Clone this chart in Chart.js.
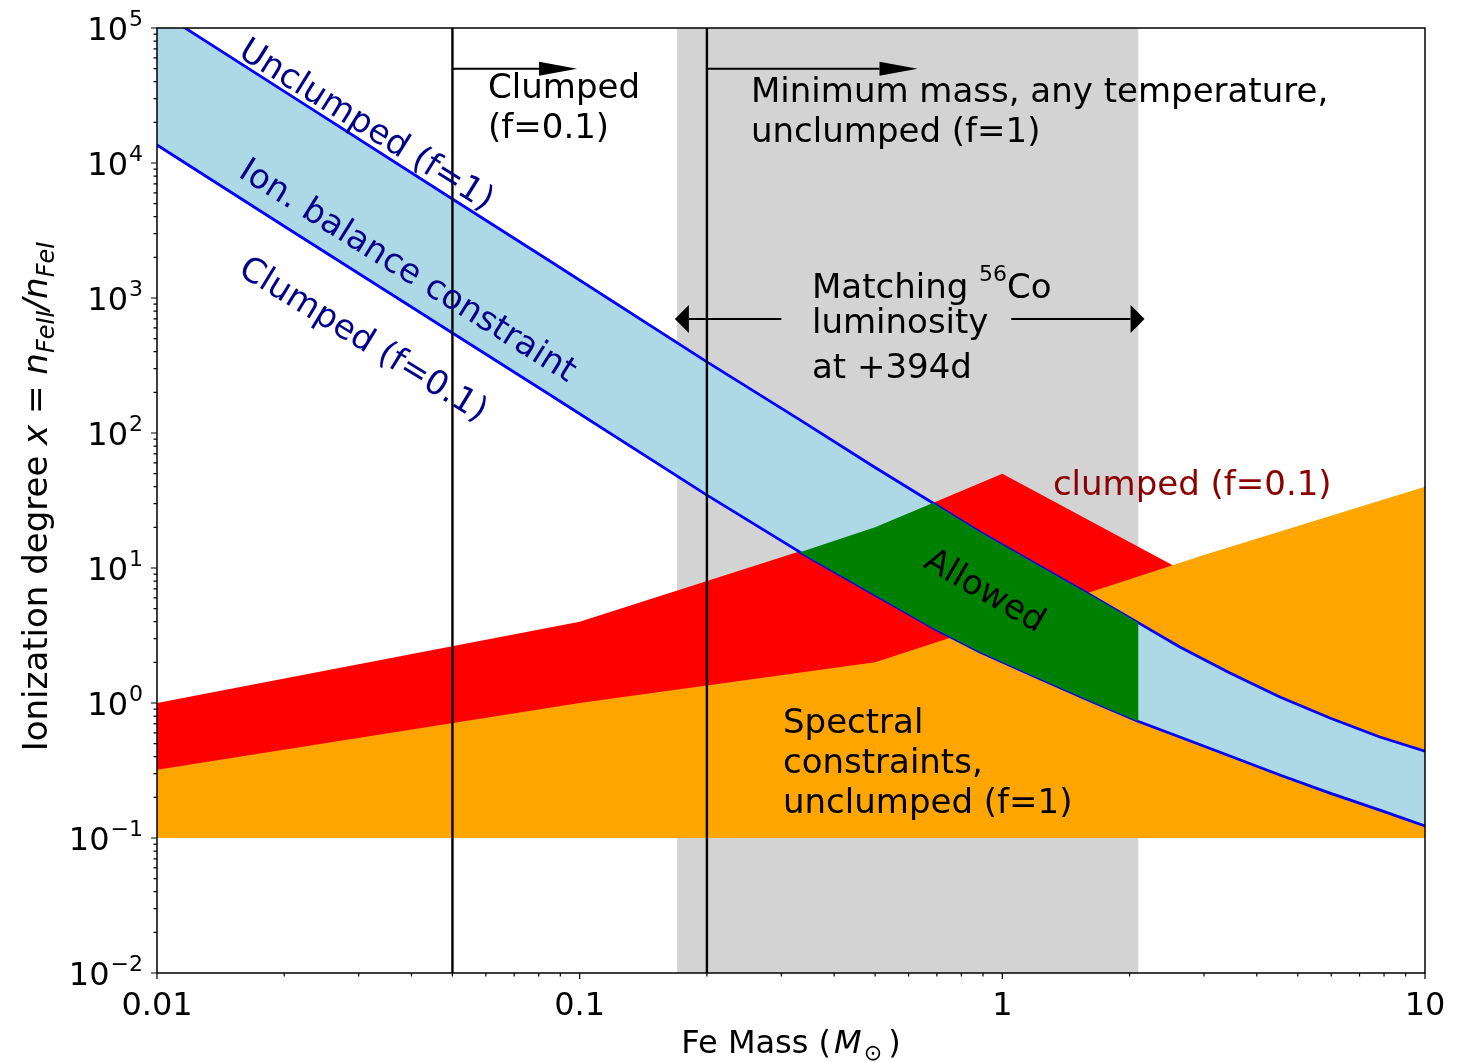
<!DOCTYPE html>
<html lang="en">
<head>
<meta charset="UTF-8">
<title>Ionization degree vs Fe mass</title>
<style>
  body { margin: 0; background: #fff; }
  #wrap { width: 1471px; height: 1062px; }
</style>
<script src="https://cdn.jsdelivr.net/npm/chart.js"></script>
</head>
<body>
<div id="wrap"><canvas id="ionChart" width="1471" height="1062"></canvas></div>
<script>
// ion balance curves (Fe mass in Msun)
const massGrid     = [0.01, 0.02, 0.05, 0.085, 0.2, 0.332, 0.5, 0.685, 0.885, 1.2, 1.585, 2.1, 2.63, 3.455, 4.536, 5.957, 7.82, 10];
const unclumpedIon = [136000, 33900, 5410, 1880, 336, 125, 55.5, 30.3, 18.5, 10.7, 6.53, 3.92, 2.60, 1.667, 1.107, 0.774, 0.56, 0.44];
const clumpedIon   = [13600, 3400, 550, 192, 34.7, 13.1, 6.3, 3.6, 2.39, 1.56, 1.06, 0.73, 0.56, 0.405, 0.293, 0.215, 0.161, 0.123];

// spectral constraints (upper edges, both go down to the floor)
const specClumpedMass   = [0.01, 0.1, 0.5, 1, 2.53];
const specClumpedTop    = [1.0, 4.0, 20, 50, 10.5];
const specUnclumpedMass = [0.01, 0.1, 0.5, 3, 10];
const specUnclumpedTop  = [0.32, 1.0, 2.0, 12.5, 40];
const specFloor = 0.1;

// allowed region
const allowedMass   = [0.332, 0.5, 0.685, 0.885, 1.2, 1.585, 2.1];
const allowedTop    = [13.1, 20, 30.3, 18.5, 10.7, 6.53, 3.92];
const allowedBottom = [13.1, 6.3, 3.6, 2.39, 1.56, 1.06, 0.73];

// 56Co luminosity band and minimum mass lines
const coBandMass = [0.17, 2.1];
const minMassLines = [0.05, 0.2];

// arrows
const arrowFrom = [0.05, 0.2, 0.30, 1.05];
const arrowTo   = [0.0986, 0.63, 0.168, 2.17];
const arrowY    = [50000, 50000, 700, 700];

// ticks
const xMajorTicks = [0.01, 0.1, 1, 10];
const xTickLabels = ['0.01', '0.1', '1', '10'];
const yMajorTicks = [1e-2, 1e-1, 1, 10, 100, 1e3, 1e4, 1e5];
const yTickExponents = ['\u22122', '\u22121', '0', '1', '2', '3', '4', '5'];
const minorSubs = [2, 3, 4, 5, 6, 7, 8, 9];

const FONT = "'DejaVu Sans', 'Liberation Sans', sans-serif";
const TXT = 34;
const TICK_TXT = 32;
const TITLE_TXT = 34;

function pts(xs, ys) {
    return xs.map((x, i) => ({x: x, y: ys[i]}));
}

function minorsOf(majors) {
    const out = [];
    majors.slice(0, -1).forEach(m => minorSubs.forEach(s => out.push(m * s)));
    return out;
}

function setFont(ctx, size, italic) {
    ctx.font = (italic ? 'italic ' : '') + size + 'px ' + FONT;
}

function segWidth(ctx, segs) {
    let w = 0;
    segs.forEach(s => {
        setFont(ctx, s.size || TXT, s.italic);
        w += ctx.measureText(s.t).width + (s.gap || 0);
    });
    return w;
}

function drawSegs(ctx, segs, x, y) {
    let cx = x;
    segs.forEach(s => {
        setFont(ctx, s.size || TXT, s.italic);
        ctx.fillText(s.t, cx, y + (s.dy || 0));
        cx += ctx.measureText(s.t).width + (s.gap || 0);
    });
}

// text placed in data coordinates
const textNotes = [
    {x: 0.0607, y: 30300, color: '#000', step: [0, 40],
     lines: [[{t: 'Clumped'}], [{t: '(f=0.1)'}]]},
    {x: 0.2543, y: 28300, color: '#000', step: [0, 40],
     lines: [[{t: 'Minimum mass, any temperature,'}], [{t: 'unclumped (f=1)'}]]},
    {x: 0.3545, y: 1000, color: '#000', step: [0, 35, 80],
     lines: [[{t: 'Matching '}, {t: '56', size: 22, dy: -17}, {t: 'Co'}], [{t: 'luminosity'}], [{t: 'at +394d'}]]},
    {x: 1.317, y: 34.7, color: '#8b0000', step: [0],
     lines: [[{t: 'clumped (f=0.1)'}]]},
    {x: 0.3027, y: 0.6, color: '#000', step: [0, 40, 80],
     lines: [[{t: 'Spectral'}], [{t: 'constraints,'}], [{t: 'unclumped (f=1)'}]]}
];

const slantNotes = [
    {x: 0.01546, y: 62000, text: 'Unclumped (f=1)', color: '#00008b', angle: 32, align: 'left'},
    {x: 0.01546, y: 8010, text: 'Ion. balance constraint', color: '#00008b', angle: 32, align: 'left'},
    {x: 0.01546, y: 1507, text: 'Clumped (f=0.1)', color: '#00008b', angle: 31.5, align: 'left'},
    {x: 0.905, y: 6.64, text: 'Allowed', color: '#000', angle: 30, align: 'center'}
];

// head length / half width in px
const arrowHeads = [[38, 7], [38, 7], [14, 14], [14, 14]];

const yTitle = [
    {t: 'Ionization degree ', size: TITLE_TXT}, {t: 'x', italic: true, size: TITLE_TXT}, {t: ' = ', size: TITLE_TXT},
    {t: 'n', italic: true, size: TITLE_TXT}, {t: 'FeII', italic: true, size: 24, dy: 7},
    {t: '/', italic: true, size: TITLE_TXT}, {t: 'n', italic: true, size: TITLE_TXT},
    {t: 'FeI', italic: true, size: 24, dy: 7}
];
const xTitle = [
    {t: 'Fe Mass (', size: 32, gap: 3}, {t: 'M', italic: true, size: 32, gap: 2},
    {t: '\u2299', size: 22, dy: 7, gap: 6}, {t: ')', size: 32}
];

const decor = {
    id: 'decor',
    beforeDraw(chart) {
        const ctx = chart.ctx;
        ctx.save();
        ctx.fillStyle = '#fff';
        ctx.fillRect(0, 0, chart.width, chart.height);
        ctx.restore();
    },
    afterDatasetsDraw(chart) {
        const ctx = chart.ctx;
        const xs = chart.scales.x, ys = chart.scales.y;
        const a = chart.chartArea;
        ctx.save();

        // arrows
        ctx.strokeStyle = '#000';
        ctx.fillStyle = '#000';
        ctx.lineWidth = 2;
        arrowFrom.forEach((f, i) => {
            const x0 = xs.getPixelForValue(f);
            const x1 = xs.getPixelForValue(arrowTo[i]);
            const y = ys.getPixelForValue(arrowY[i]);
            const dir = x1 > x0 ? 1 : -1;
            const hl = arrowHeads[i][0], hw = arrowHeads[i][1];
            ctx.beginPath();
            ctx.moveTo(x0, y);
            ctx.lineTo(x1 - dir * hl, y);
            ctx.stroke();
            ctx.beginPath();
            ctx.moveTo(x1, y);
            ctx.lineTo(x1 - dir * hl, y - hw);
            ctx.lineTo(x1 - dir * hl, y + hw);
            ctx.closePath();
            ctx.fill();
        });

        // plain annotations
        ctx.textAlign = 'left';
        ctx.textBaseline = 'alphabetic';
        textNotes.forEach(n => {
            const px = xs.getPixelForValue(n.x);
            const py = ys.getPixelForValue(n.y);
            ctx.fillStyle = n.color;
            n.lines.forEach((segs, i) => drawSegs(ctx, segs, px, py + n.step[i]));
        });

        // slanted annotations
        slantNotes.forEach(n => {
            const px = xs.getPixelForValue(n.x);
            const py = ys.getPixelForValue(n.y);
            ctx.save();
            ctx.translate(px, py);
            ctx.rotate(n.angle * Math.PI / 180);
            ctx.fillStyle = n.color;
            setFont(ctx, TXT, false);
            ctx.textAlign = n.align;
            ctx.textBaseline = n.align === 'center' ? 'middle' : 'alphabetic';
            ctx.fillText(n.text, 0, 0);
            ctx.restore();
        });

        // frame
        ctx.strokeStyle = '#000';
        ctx.lineWidth = 1.5;
        ctx.strokeRect(a.left, a.top, a.right - a.left, a.bottom - a.top);

        // tick marks
        ctx.lineWidth = 1.2;
        ctx.beginPath();
        xMajorTicks.forEach(v => {
            const p = xs.getPixelForValue(v);
            ctx.moveTo(p, a.bottom); ctx.lineTo(p, a.bottom + 6);
        });
        minorsOf(xMajorTicks).forEach(v => {
            const p = xs.getPixelForValue(v);
            ctx.moveTo(p, a.bottom); ctx.lineTo(p, a.bottom + 3.5);
        });
        yMajorTicks.forEach(v => {
            const p = ys.getPixelForValue(v);
            ctx.moveTo(a.left, p); ctx.lineTo(a.left - 6, p);
        });
        minorsOf(yMajorTicks).forEach(v => {
            const p = ys.getPixelForValue(v);
            ctx.moveTo(a.left, p); ctx.lineTo(a.left - 3.5, p);
        });
        ctx.stroke();

        // tick labels
        ctx.fillStyle = '#000';
        ctx.textAlign = 'center';
        setFont(ctx, TICK_TXT, false);
        xMajorTicks.forEach((v, i) => {
            ctx.fillText(xTickLabels[i], xs.getPixelForValue(v), a.bottom + 42);
        });
        ctx.textAlign = 'right';
        yMajorTicks.forEach((v, i) => {
            const p = ys.getPixelForValue(v);
            const right = a.left - 14;
            setFont(ctx, 22, false);
            const ew = ctx.measureText(yTickExponents[i]).width;
            ctx.fillText(yTickExponents[i], right, p - 2);
            setFont(ctx, TICK_TXT, false);
            ctx.fillText('10', right - ew - 1, p + 12);
        });

        // axis titles
        ctx.textAlign = 'left';
        const xw = segWidth(ctx, xTitle);
        drawSegs(ctx, xTitle, (a.left + a.right) / 2 - xw / 2, chart.height - 9);

        ctx.save();
        ctx.translate(47, (a.top + a.bottom) / 2 - 4);
        ctx.rotate(-Math.PI / 2);
        const yw = segWidth(ctx, yTitle);
        drawSegs(ctx, yTitle, -yw / 2, 0);
        ctx.restore();

        ctx.restore();
    }
};

const datasets = [
    {label: 'Co band', data: coBandMass.map(m => ({x: m, y: 1e5})), fill: 'start',
     backgroundColor: '#d3d3d3', borderWidth: 0, order: 9},
    {label: 'Spectral, clumped', data: pts(specClumpedMass, specClumpedTop), fill: {value: specFloor},
     backgroundColor: '#ff0000', borderWidth: 0, order: 8},
    {label: 'Spectral, unclumped', data: pts(specUnclumpedMass, specUnclumpedTop), fill: {value: specFloor},
     backgroundColor: '#ffa500', borderWidth: 0, order: 7},
    {label: 'Ion band base', data: pts(massGrid, clumpedIon), fill: false, borderWidth: 0, order: 6},
    {label: 'Ion band', data: pts(massGrid, unclumpedIon), fill: 3,
     backgroundColor: '#add8e6', borderWidth: 0, order: 6},
    {label: 'Clumped (f=0.1)', data: pts(massGrid, clumpedIon), fill: false,
     borderColor: '#0000ff', borderWidth: 2.8, borderJoinStyle: 'round', order: 5},
    {label: 'Unclumped (f=1)', data: pts(massGrid, unclumpedIon), fill: false,
     borderColor: '#0000ff', borderWidth: 2.8, borderJoinStyle: 'round', order: 5},
    {label: 'Allowed base', data: pts(allowedMass, allowedBottom), fill: false, borderWidth: 0, order: 4},
    {label: 'Allowed', data: pts(allowedMass, allowedTop), fill: 7,
     backgroundColor: '#008000', borderWidth: 0, order: 4}
];
minMassLines.forEach(m => {
    datasets.push({label: 'Min mass ' + m, data: [{x: m, y: 1e-2}, {x: m, y: 1e5}], fill: false,
                   borderColor: '#000', borderWidth: 2.4, order: 3});
});

new Chart(document.getElementById('ionChart'), {
    type: 'line',
    data: {datasets: datasets},
    options: {
        responsive: false,
        animation: false,
        devicePixelRatio: 1,
        layout: {padding: {left: 0, right: 46, top: 28, bottom: 0}},
        elements: {point: {radius: 0, hoverRadius: 0}, line: {tension: 0, borderColor: 'transparent'}},
        plugins: {legend: {display: false}, tooltip: {enabled: false}},
        events: [],
        scales: {
            x: {
                type: 'logarithmic', min: 0.01, max: 10,
                ticks: {display: false}, grid: {display: false}, border: {display: false},
                afterFit: s => { s.height = 89; s.paddingLeft = 0; s.paddingRight = 0; }
            },
            y: {
                type: 'logarithmic', min: 1e-2, max: 1e5,
                ticks: {display: false}, grid: {display: false}, border: {display: false},
                afterFit: s => { s.width = 157; s.paddingTop = 0; s.paddingBottom = 0; }
            }
        }
    },
    plugins: [decor]
});
</script>
</body>
</html>
